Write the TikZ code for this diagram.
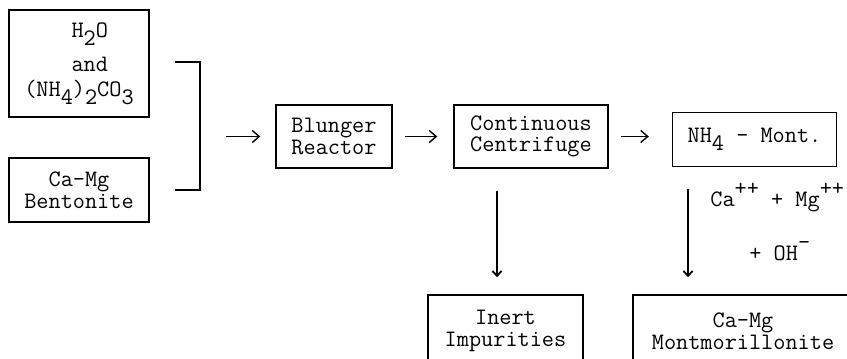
\documentclass[tikz,border=0pt]{standalone}
\usepackage{fontspec}
\usetikzlibrary{arrows.meta}
\newcommand{\chsub}[1]{\raisebox{-0.8ex}{#1}}
\newcommand{\chsup}[1]{\raisebox{1ex}{#1}}

\begin{document}
\begin{tikzpicture}[x=0.5pt, y=-0.5pt,
    box/.style={draw, line width=0.7pt, align=center, inner sep=0pt, font=\ttfamily\fontsize{11.8}{10.8}\selectfont},
    flow/.style={line width=0.6pt, -{Straight Barb[length=3.5pt, width=6pt, line width=0.7pt]}},
    drop/.style={line width=0.9pt, -{Straight Barb[length=2.5pt, width=4.5pt]}},
    lbl/.style={font=\ttfamily\fontsize{11.8}{10.8}\selectfont, inner sep=0pt}]
  \useasboundingbox (0,0) rectangle (847,359);
  \clip (0,0) rectangle (847,359);

  % FEED
  \node[box, minimum width=70pt, minimum height=53.5pt, align=left] (h2o) at (79,63.5)
    {\hspace*{2em}H\chsub{2}O\\[5pt] \hspace*{2em}and\\[1.5pt] (NH\chsub{4})\chsub{2}CO\chsub{3}};
  \node[box, minimum width=70pt, minimum height=32pt] (bent) at (79,190) {Ca-Mg\\Bentonite};
  \coordinate (bt) at (175,62);
  \coordinate (bb) at (175,190);
  \coordinate (bm) at (200,136.5);
  \draw[line width=0.7pt] (bt) -| (bm) |- (bb);

  % PROCESS LINE
  \node[box, minimum width=58pt, minimum height=31.5pt] (blunger) at (334,136.5) {Blunger\\Reactor};
  \node[box, minimum width=77pt, minimum height=31.5pt] (centr) at (531,136.5) {Continuous\\Centrifuge};
  \node[box, minimum width=82pt, minimum height=27pt] (nh4) at (754.5,139.5) {NH\chsub{4} - Mont.};
  \draw[flow, shorten <=13pt, shorten >=7.5pt] (bm) -- (blunger.west);
  \draw[flow, shorten <=6pt, shorten >=8pt] (blunger.east) -- (centr.west);
  \draw[flow, shorten <=6pt, shorten >=11.5pt] (centr.east) -- (centr.east -| nh4.west);

  % PRODUCTS
  \node[box, minimum width=77.5pt, minimum height=36pt] (inert) at (505.5,331) {Inert\\Impurities};
  \node[box, minimum width=110pt, minimum height=36pt] (mont) at (743,331) {Ca-Mg\\Montmorillonite};
  \draw[drop, shorten <=11pt, shorten >=8.5pt] ([xshift=-17pt]centr.south) -- ([xshift=-17pt]centr.south |- inert.north);
  \draw[drop, shorten <=10.75pt, shorten >=8.5pt] ([xshift=-33.25pt]nh4.south) -- ([xshift=-33.25pt]nh4.south |- mont.north);
  \node[lbl, anchor=base west] (ions) at (710,206) {Ca\chsup{++} + Mg\chsup{++}};
  \node[lbl, anchor=base west] (oh) at (749,260) {+ OH\chsup{-}};
\end{tikzpicture}
\end{document}
